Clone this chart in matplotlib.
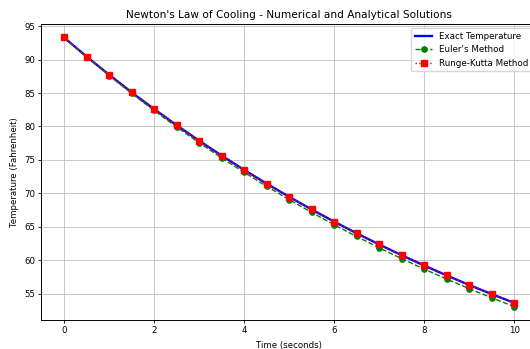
import matplotlib
matplotlib.use('Agg')
import matplotlib.pyplot as plt

# time steps (seconds)
t = [0, 0.5, 1, 1.5, 2, 2.5, 3, 3.5, 4, 4.5, 5, 5.5, 6, 6.5, 7, 7.5, 8, 8.5, 9, 9.5, 10]

# temperatures (Fahrenheit)
exact = [93.3, 90.46, 87.74, 85.12, 82.61, 80.2, 77.88, 75.66, 73.52, 71.47, 69.5,
         67.61, 65.79, 64.05, 62.38, 60.77, 59.23, 57.75, 56.32, 54.96, 53.65]
euler = [93.3, 90.4, 87.62, 84.95, 82.39, 79.94, 77.58, 75.32, 73.15, 71.07, 69.08,
         67.17, 65.33, 63.57, 61.88, 60.26, 58.7, 57.21, 55.78, 54.41, 53.09]
rk4 = [93.3, 90.46, 87.74, 85.12, 82.61, 80.2, 77.88, 75.66, 73.52, 71.47, 69.5,
       67.61, 65.79, 64.05, 62.38, 60.77, 59.23, 57.75, 56.32, 54.96, 53.65]

fig = plt.figure(figsize=(5.3, 3.49), dpi=100)
ax = fig.add_axes([0.0783, 0.0831, 0.934, 0.848])

ax.plot(t, exact, 'b-', linewidth=1.7, label='Exact Temperature')
ax.plot(t, euler, 'g--o', linewidth=1.0, markersize=3.8, label="Euler's Method")
ax.plot(t, rk4, 'r:s', linewidth=1.0, markersize=3.8, label='Runge-Kutta Method')

ax.set_title("Newton's Law of Cooling - Numerical and Analytical Solutions", fontsize=7.6, pad=4)
ax.set_xlabel('Time (seconds)', fontsize=6.2)
ax.set_ylabel('Temperature (Fahrenheit)', fontsize=6.2)
ax.tick_params(labelsize=6.2, length=2.5, width=0.6, pad=2)
for s in ax.spines.values():
    s.set_linewidth(0.7)
ax.grid(True, linewidth=0.6, color='#c0c0c0')
ax.legend(loc='upper right', fontsize=6.3)

fig.savefig('out.png', dpi=100)
